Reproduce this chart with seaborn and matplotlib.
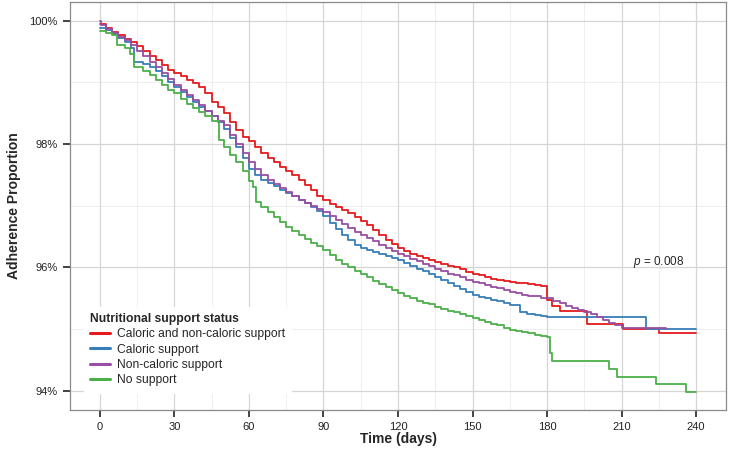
import numpy as np
import pandas as pd
import matplotlib
matplotlib.use('Agg')
import matplotlib.pyplot as plt
from matplotlib.ticker import FixedLocator, FuncFormatter
import seaborn as sns

# Kaplan-Meier style adherence curves (day, % still adherent)
groups = ['Caloric and non-caloric support', 'Caloric support', 'Non-caloric support', 'No support']
colours = ['#E41A1C', '#377EB8', '#984EA3', '#4DAF4A']

red_days = [0, 2.5, 5, 7.5, 10, 12.5, 15, 17.5, 20, 22.5, 25, 27.5, 30, 32.5, 35, 37.5, 40, 42.5,
            45, 47.5, 50, 52.5, 55, 57.5, 60, 62.5, 65, 67.5, 70, 72.5, 75, 77.5, 80, 82.5, 85,
            87.5, 90, 92.5, 95, 97.5, 100, 102.5, 105, 107.5, 110, 112.5, 115, 117.5, 120, 122.5,
            125, 127.5, 130, 132.5, 135, 137.5, 140, 142.5, 145, 147.5, 150, 152.5, 155, 157.5,
            160, 162.5, 165, 167.5, 170, 172.5, 175, 177.5, 180, 182, 185, 196, 210.5, 225, 240]
red_vals = [99.95, 99.88, 99.82, 99.77, 99.7, 99.65, 99.58, 99.5, 99.42, 99.36, 99.28, 99.2,
            99.15, 99.1, 99.04, 98.98, 98.92, 98.82, 98.68, 98.6, 98.5, 98.36, 98.22, 98.12,
            98.05, 97.95, 97.85, 97.78, 97.7, 97.63, 97.57, 97.5, 97.42, 97.33, 97.25, 97.16,
            97.09, 97.03, 96.98, 96.93, 96.88, 96.82, 96.76, 96.68, 96.6, 96.52, 96.45, 96.38,
            96.31, 96.26, 96.22, 96.18, 96.15, 96.12, 96.09, 96.06, 96.03, 96.0, 95.97, 95.93,
            95.9, 95.87, 95.85, 95.82, 95.8, 95.78, 95.77, 95.75, 95.74, 95.73, 95.72, 95.7,
            95.47, 95.38, 95.3, 95.09, 95.01, 94.93, 94.93]

blue_days = [0, 2.5, 5, 7.5, 10, 12.5, 13.8, 17.5, 20, 22.5, 25, 27.5, 30, 32.5, 35, 37.5, 40,
             42.5, 45, 47.5, 50, 52.5, 55, 57.5, 60, 62.5, 65, 67.5, 70, 72.5, 75, 77.5, 80, 82.5,
             85, 87.5, 90, 92.5, 95, 97.5, 100, 102.5, 105, 107.5, 110, 112.5, 115, 117.5, 120,
             122.5, 125, 127.5, 130, 132.5, 135, 137.5, 140, 142.5, 145, 147.5, 150, 152.5, 155,
             157.5, 160, 162.5, 165, 169, 172, 175, 177.5, 180, 220, 240]
blue_vals = [99.88, 99.84, 99.78, 99.72, 99.65, 99.55, 99.33, 99.29, 99.25, 99.18, 99.1, 99.0,
             98.92, 98.84, 98.76, 98.68, 98.6, 98.53, 98.45, 98.36, 98.25, 98.1, 97.95, 97.78,
             97.6, 97.5, 97.42, 97.37, 97.32, 97.26, 97.2, 97.15, 97.1, 97.04, 96.98, 96.91,
             96.84, 96.72, 96.62, 96.53, 96.45, 96.36, 96.31, 96.28, 96.25, 96.21, 96.18, 96.15,
             96.12, 96.07, 96.02, 95.98, 95.94, 95.9, 95.85, 95.8, 95.75, 95.7, 95.65, 95.6,
             95.55, 95.52, 95.5, 95.47, 95.45, 95.42, 95.39, 95.28, 95.25, 95.23, 95.21, 95.19,
             95.01, 95.01]

purple_days = [0, 0.5, 2.5, 5, 7.5, 10, 12.5, 15, 17.5, 20, 22.5, 25, 27.5, 30, 32.5, 35, 37.5,
               40, 42.5, 45, 47.5, 50, 52.5, 55, 57.5, 60, 62.5, 65, 67.5, 70, 72.5, 75, 77.5, 80,
               82.5, 85, 87.5, 90, 92.5, 95, 97.5, 100, 102.5, 105, 107.5, 110, 112.5, 115, 117.5,
               120, 122.5, 125, 127.5, 130, 132.5, 135, 137.5, 140, 142.5, 145, 147.5, 150, 152.5,
               155, 157.5, 160, 162.5, 165, 167.5, 170, 172.5, 175, 177.5, 180, 182.5, 185, 187.5,
               190, 192.5, 195, 197.5, 200, 202.5, 205, 207.5, 210, 228]
purple_vals = [100.0, 99.93, 99.86, 99.8, 99.74, 99.68, 99.6, 99.5, 99.42, 99.33, 99.24, 99.15,
               99.05, 98.95, 98.88, 98.8, 98.72, 98.63, 98.54, 98.45, 98.38, 98.3, 98.15, 98.0,
               97.85, 97.7, 97.6, 97.5, 97.42, 97.35, 97.28, 97.22, 97.16, 97.1, 97.05, 97.0,
               96.95, 96.9, 96.83, 96.77, 96.7, 96.64, 96.58, 96.52, 96.47, 96.42, 96.37, 96.32,
               96.27, 96.22, 96.18, 96.14, 96.1, 96.06, 96.02, 95.98, 95.94, 95.9, 95.87, 95.84,
               95.8, 95.77, 95.74, 95.72, 95.69, 95.66, 95.63, 95.6, 95.58, 95.56, 95.54, 95.53,
               95.51, 95.5, 95.46, 95.42, 95.38, 95.35, 95.31, 95.28, 95.24, 95.2, 95.15, 95.1,
               95.06, 95.02, 95.0]

green_days = [0, 2.5, 5, 7.1, 10, 12, 13.8, 17.5, 20, 22.5, 25, 27.5, 30, 32.5, 35, 37.5, 40,
              42.5, 45, 48, 50, 52.5, 55, 57.5, 60, 61.5, 63, 65, 67.5, 70, 72.5, 75, 77.5, 80,
              82.5, 85, 87.5, 90, 92.5, 95, 97.5, 100, 102.5, 105, 107.5, 110, 112.5, 115, 117.5,
              120, 122.5, 125, 127.5, 130, 132.5, 135, 137.5, 140, 142.5, 145, 147.5, 150, 152.5,
              155, 157.5, 160, 162.5, 165, 167.5, 170, 172.5, 175, 177.5, 180, 181, 182, 205, 208,
              224, 236, 240]
green_vals = [99.83, 99.8, 99.77, 99.6, 99.55, 99.45, 99.24, 99.18, 99.12, 99.03, 98.95, 98.88,
              98.82, 98.73, 98.65, 98.58, 98.52, 98.45, 98.38, 98.06, 97.95, 97.82, 97.7, 97.57,
              97.4, 97.3, 97.06, 96.98, 96.9, 96.82, 96.74, 96.66, 96.59, 96.52, 96.46, 96.4,
              96.34, 96.28, 96.2, 96.12, 96.06, 96.0, 95.95, 95.9, 95.84, 95.78, 95.73, 95.68,
              95.63, 95.58, 95.54, 95.5, 95.46, 95.43, 95.4, 95.36, 95.33, 95.3, 95.27, 95.24,
              95.21, 95.18, 95.15, 95.12, 95.09, 95.06, 95.02, 94.99, 94.97, 94.95, 94.93, 94.91,
              94.89, 94.87, 94.61, 94.48, 94.36, 94.23, 94.11, 93.98, 93.98]

x_ticks = [0, 30, 60, 90, 120, 150, 180, 210, 240]
x_minor = [15, 45, 75, 105, 135, 165, 195, 225]
y_ticks = [94, 96, 98, 100]
y_minor = [95, 97, 99]
p_label = '0.008'

frames = []
for name, d, v in zip(groups, [red_days, blue_days, purple_days, green_days],
                      [red_vals, blue_vals, purple_vals, green_vals]):
    frames.append(pd.DataFrame({'day': d, 'adh': v, 'group': name}))
df = pd.concat(frames, ignore_index=True)

sns.set_style('white', {'xtick.bottom': True, 'ytick.left': True})
plt.rcParams.update({
    'font.family': ['Liberation Sans', 'DejaVu Sans'],
    'mathtext.fontset': 'custom',
    'mathtext.it': 'Liberation Sans:italic',
    'mathtext.rm': 'Liberation Sans',
    'xtick.major.size': 5, 'ytick.major.size': 5,
    'xtick.major.width': 1.2, 'ytick.major.width': 1.2,
    'xtick.color': '#222222', 'ytick.color': '#222222',
    'xtick.major.pad': 4, 'ytick.major.pad': 4,
    'xtick.labelsize': 8, 'ytick.labelsize': 8,
    'axes.grid': True, 'grid.color': '#d6d6d6', 'grid.linewidth': 0.9,
    'axes.edgecolor': '#8a8a8a', 'axes.linewidth': 0.9,
})

fig = plt.figure(figsize=(7.29, 4.59), dpi=100)
ax = fig.add_axes([70 / 729, 49 / 459, 656 / 729, 408 / 459])

# light minor grid
for d in x_minor:
    ax.axvline(d, color='#ececec', linewidth=0.6, zorder=0)
for v in y_minor:
    ax.axhline(v, color='#ececec', linewidth=0.6, zorder=0)

sns.lineplot(data=df, x='day', y='adh', hue='group', hue_order=groups,
             palette=colours, estimator=None, sort=False, drawstyle='steps-post',
             linewidth=1.3, ax=ax)

ax.set_xlim(-12, 252)
ax.set_ylim(93.69, 100.30)
ax.set_xticks(x_ticks)
ax.set_yticks(y_ticks)
ax.yaxis.set_major_formatter(FuncFormatter(lambda v, _: '%d%%' % v))

ax.set_xlabel('Time (days)', fontsize=10, fontweight='bold', labelpad=0)
ax.set_ylabel('Adherence Proportion', fontsize=10, fontweight='bold', labelpad=6)

ax.text(225, 96.08, r'$p$ = ' + p_label, fontsize=8.5, ha='center', va='center')

handles, labels = ax.get_legend_handles_labels()
leg = ax.legend(handles, labels, title='Nutritional support status', loc='lower left',
                bbox_to_anchor=(0.012, 0.028), fontsize=8.7,
                title_fontproperties={'weight': 'bold', 'size': 8.7},
                frameon=True, fancybox=False, edgecolor='white', facecolor='white', framealpha=1,
                handlelength=1.7, handletextpad=0.5, labelspacing=0.28, borderpad=0.5)
leg._legend_box.align = 'left'
for line in leg.get_lines():
    line.set_linewidth(2.2)

fig.savefig('out.png', dpi=100)
